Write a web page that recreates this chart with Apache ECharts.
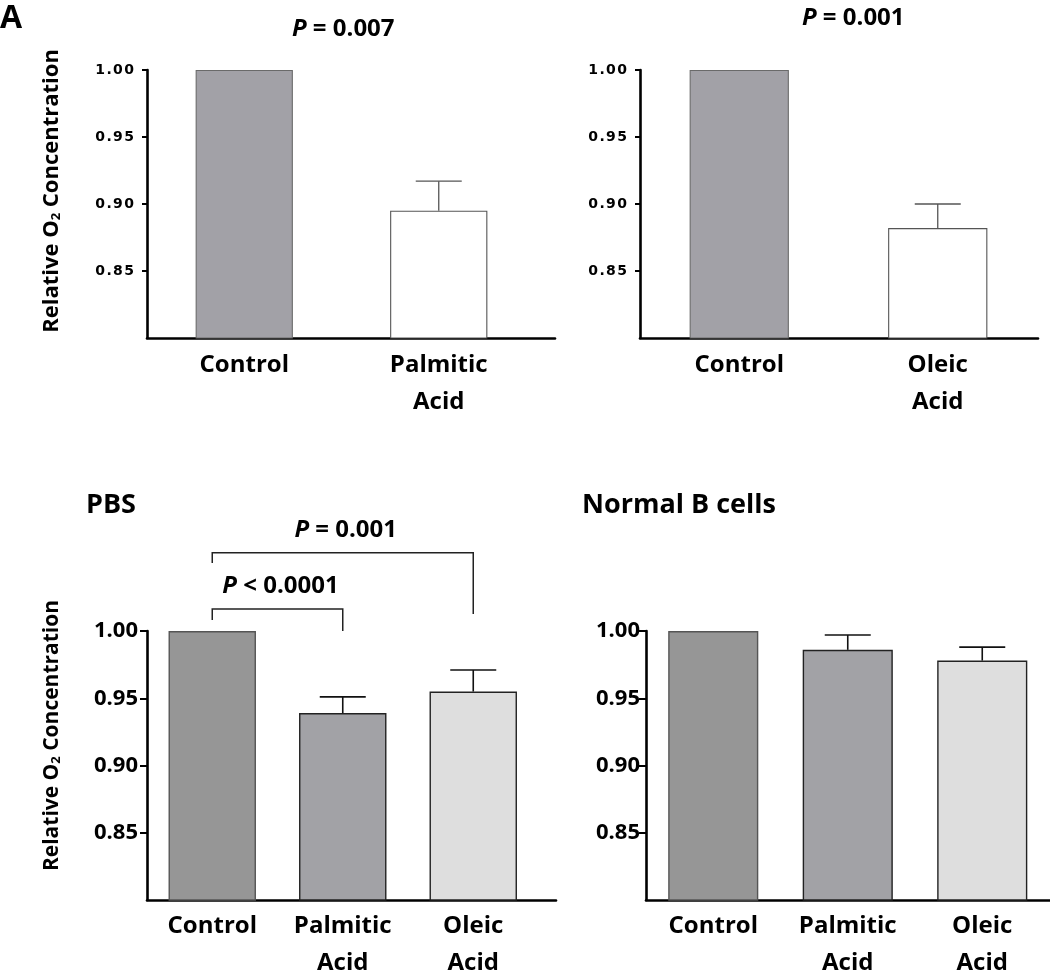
<!DOCTYPE html>
<html>
<head>
<meta charset="utf-8">
<script src="https://cdn.jsdelivr.net/npm/echarts@6/dist/echarts.min.js"></script>
<style>html,body{margin:0;padding:0;background:#fff}#c{width:1050px;height:972px}</style>
</head>
<body>
<div id="c"></div>
<script>
// ---------- data ----------
const yTicks = [0.85, 0.90, 0.95, 1.00];

const palmCats = ['Control', 'Palmitic\nAcid'];
const palmMeans = [1.00, 0.895];
const palmSem = [0, 0.022];
const palmP = 'P = 0.007';

const oleicCats = ['Control', 'Oleic\nAcid'];
const oleicMeans = [1.00, 0.882];
const oleicSem = [0, 0.018];
const oleicP = 'P = 0.001';

const threeCats = ['Control', 'Palmitic\nAcid', 'Oleic\nAcid'];
const pbsMeans = [1.00, 0.939, 0.955];
const pbsSem = [0, 0.012, 0.016];
const normalMeans = [1.00, 0.986, 0.978];
const normalSem = [0, 0.011, 0.010];

// comparisons in the PBS panel: [from, to, bracket top, left leg end, right leg end, label]
const pbsBrackets = [
  [0, 1, 1.0164, 1.0082, 1.0000, '< 0.0001'],
  [0, 2, 1.0582, 1.0506, 1.0126, '= 0.001']
];

// ---------- styles ----------
const topColors = ['#a2a1a7', '#ffffff'];
const topBorders = ['#6a6a6a', '#555555'];
const botColors = ['#969696', '#a2a2a6', '#dedede'];
const botBorders = ['#555555', '#222222', '#222222'];
const SANS = '"Open Sans", "Noto Sans", sans-serif';

const grids = [], xAxes = [], yAxes = [], series = [];

function errRender(color, lw) {
  return function (params, api) {
    const x = api.value(0);
    const p0 = api.coord([x, api.value(1)]);
    const p1 = api.coord([x, api.value(2)]);
    const hw = 23;
    const st = { stroke: color, lineWidth: lw };
    return {
      type: 'group',
      children: [
        { type: 'line', shape: { x1: p0[0], y1: p0[1], x2: p1[0], y2: p1[1] }, style: st },
        { type: 'line', shape: { x1: p1[0] - hw, y1: p1[1], x2: p1[0] + hw, y2: p1[1] }, style: st }
      ]
    };
  };
}

function addPanel(cfg) {
  const gi = grids.length;
  grids.push({ left: cfg.left, top: cfg.top, width: cfg.width, height: cfg.height,
               containLabel: false, outerBoundsMode: 'none' });
  xAxes.push({
    type: 'category', gridIndex: gi, data: cfg.cats,
    axisLine: { show: false }, axisTick: { show: false },
    axisLabel: { interval: 0, margin: cfg.xMargin, color: '#000', fontFamily: SANS,
                 fontWeight: 'bold', fontSize: 24, lineHeight: cfg.xLineHeight }
  });
  const y = {
    type: 'value', gridIndex: gi, min: 0.8, max: 1.0, interval: 0.05,
    splitLine: { show: false },
    axisLine: { show: true, lineStyle: { color: '#000', width: 2.6 } },
    axisTick: { show: true, length: cfg.tickLen, lineStyle: { color: '#000', width: 2 }, customValues: yTicks },
    axisLabel: Object.assign({ customValues: yTicks, color: '#000', fontWeight: 'bold' }, cfg.yLabel)
  };
  if (cfg.yName) {
    y.name = 'Relative O{sub|2} Concentration';
    y.nameLocation = 'middle';
    y.nameRotate = 90;
    y.nameGap = cfg.nameGap;
    y.nameTextStyle = {
      color: '#000', fontFamily: SANS, fontWeight: 'bold', fontSize: cfg.nameSize,
      padding: cfg.namePad,
      rich: { sub: { fontFamily: SANS, fontWeight: 'bold', fontSize: 13, padding: [9, 0, 0, 0], color: '#000' } }
    };
  }
  yAxes.push(y);
  series.push({
    type: 'bar', xAxisIndex: gi, yAxisIndex: gi, barCategoryGap: cfg.gap,
    data: cfg.means.map((v, i) => ({
      value: v,
      itemStyle: { color: cfg.colors[i], borderColor: cfg.borders[i], borderWidth: cfg.bw }
    }))
  });
  const errData = [];
  cfg.means.forEach((v, i) => { if (cfg.sem[i] > 0) errData.push([i, v, v + cfg.sem[i]]); });
  series.push({
    type: 'custom', xAxisIndex: gi, yAxisIndex: gi, clip: false, z: 3,
    encode: { x: 0, y: [1, 2] }, data: errData,
    renderItem: errRender(cfg.errColor, cfg.errWidth)
  });
  return gi;
}

function addAxisLine(left, top, width, height) {
  const gi = grids.length;
  grids.push({ left, top, width, height, containLabel: false, outerBoundsMode: 'none' });
  xAxes.push({ type: 'category', gridIndex: gi, data: [''],
    axisLine: { show: true, onZero: false, lineStyle: { color: '#000', width: 2.6 } },
    axisTick: { show: false }, axisLabel: { show: false } });
  yAxes.push({ type: 'value', gridIndex: gi, min: 0, max: 1, show: false });
}

const topYLabel = (m) => ({
  fontFamily: '"DejaVu Sans", sans-serif', fontSize: 14, margin: m,
  formatter: v => v.toFixed(2).split('').join('\u200A')
});
const botYLabel = (m) => ({ fontFamily: SANS, fontSize: 22, margin: m, formatter: v => v.toFixed(2) });

addPanel({ left: 147, top: 70, width: 389, height: 268, cats: palmCats, means: palmMeans, sem: palmSem,
  colors: topColors, borders: topBorders, bw: 1.1, gap: '50%', errColor: '#555', errWidth: 1.3,
  xMargin: 9, xLineHeight: 37, tickLen: 5, yLabel: topYLabel(13), yName: true, nameGap: 84, nameSize: 22,
  namePad: [0, 0, 0, 26] });
addPanel({ left: 640, top: 70, width: 397, height: 268, cats: oleicCats, means: oleicMeans, sem: oleicSem,
  colors: topColors, borders: topBorders, bw: 1.1, gap: '50%', errColor: '#555', errWidth: 1.3,
  xMargin: 9, xLineHeight: 37, tickLen: 5, yLabel: topYLabel(13), yName: false });
const pbsIdx = addPanel({ left: 147, top: 631, width: 391.5, height: 269, cats: threeCats, means: pbsMeans, sem: pbsSem,
  colors: botColors, borders: botBorders, bw: 1.4, gap: '33%', errColor: '#111', errWidth: 1.6,
  xMargin: 8, xLineHeight: 37, tickLen: 7, yLabel: botYLabel(9), yName: true, nameGap: 84, nameSize: 21,
  namePad: [0, 0, 0, 60] });
addPanel({ left: 646, top: 631, width: 403.5, height: 269, cats: threeCats, means: normalMeans, sem: normalSem,
  colors: botColors, borders: botBorders, bw: 1.4, gap: '33%', errColor: '#111', errWidth: 1.6,
  xMargin: 8, xLineHeight: 37, tickLen: 7, yLabel: botYLabel(6), yName: false });

addAxisLine(147, 70, 408, 268);
addAxisLine(640, 70, 398, 268);
addAxisLine(147, 631, 409, 269);
addAxisLine(646, 631, 404, 269);

// significance brackets (PBS panel)
series.push({
  type: 'custom', xAxisIndex: pbsIdx, yAxisIndex: pbsIdx, clip: false, z: 4,
  encode: { x: [0, 1], y: [2, 3, 4] },
  data: pbsBrackets.map(b => b.slice(0, 5)),
  renderItem: function (params, api) {
    const b = pbsBrackets[params.dataIndex];
    const a0 = api.coord([api.value(0), api.value(3)]);
    const a1 = api.coord([api.value(0), api.value(2)]);
    const b1 = api.coord([api.value(1), api.value(2)]);
    const b0 = api.coord([api.value(1), api.value(4)]);
    return {
      type: 'group',
      children: [
        { type: 'polyline', shape: { points: [a0, a1, b1, b0] },
          style: { stroke: '#222', lineWidth: 1.5, fill: null } },
        { type: 'text', x: (a1[0] + b1[0]) / 2 + 3, y: a1[1] - 23,
          style: { text: '{i|P} ' + b[5], fill: '#000', font: 'bold 24px ' + SANS,
                   align: 'center', verticalAlign: 'middle', textAlign: 'center', textVerticalAlign: 'middle',
                   rich: { i: { fontStyle: 'italic', fontWeight: 'bold', fontSize: 24, fontFamily: SANS } } } }
      ]
    };
  }
});

function label(text, x, y, size, rich) {
  return { type: 'text', x, y, style: { text, fill: '#000', font: 'bold ' + size + 'px ' + SANS,
    align: 'left', verticalAlign: 'middle', textAlign: 'left', textVerticalAlign: 'middle',
    rich: rich || {} } };
}
const italicP = { i: { fontStyle: 'italic', fontWeight: 'bold', fontSize: 24, fontFamily: SANS } };

const chart = echarts.init(document.getElementById('c'), null, { renderer: 'canvas' });
chart.setOption({
  animation: false,
  backgroundColor: '#fff',
  grid: grids, xAxis: xAxes, yAxis: yAxes, series: series,
  graphic: [
    label('A', 0, 19, 32),
    label('{i|P} ' + palmP.slice(2), 292, 29, 24, italicP),
    label('{i|P} ' + oleicP.slice(2), 802, 18, 24, italicP),
    label('PBS', 86, 505, 27),
    label('Normal B cells', 582, 505, 27)
  ]
});
</script>
</body>
</html>
